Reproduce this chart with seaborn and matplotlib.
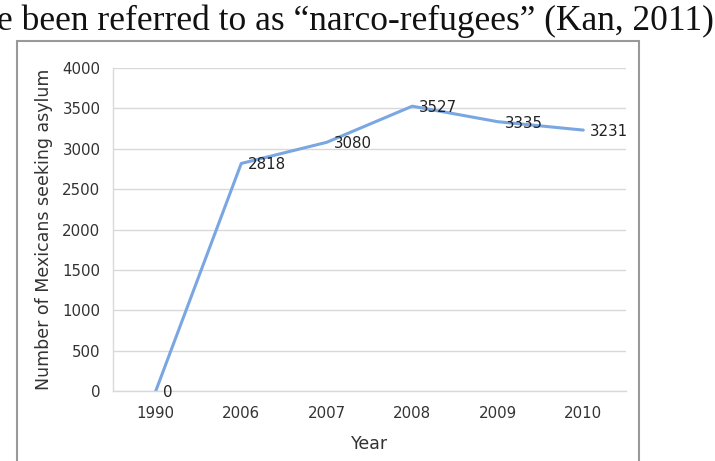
import matplotlib
matplotlib.use("Agg")
import matplotlib.pyplot as plt
from matplotlib.lines import Line2D
import seaborn as sns
import pandas as pd

years = ["1990", "2006", "2007", "2008", "2009", "2010"]
asylum_seekers = [0, 2818, 3080, 3527, 3335, 3231]
y_ticks = [0, 500, 1000, 1500, 2000, 2500, 3000, 3500, 4000]
header_text = "e been referred to as \u201cnarco-refugees\u201d (Kan, 2011)"

sns.set_theme(style="white")
plt.rcParams["font.family"] = ["DejaVu Sans"]

W, H = 715, 461
fig = plt.figure(figsize=(W / 100, H / 100), dpi=100)

# axes placement in pixels
left, right, top, bottom = 113, 626, 68, 391
ax = fig.add_axes([left / W, 1 - bottom / H, (right - left) / W, (bottom - top) / H])

df = pd.DataFrame({"Year": years, "Count": asylum_seekers})
sns.lineplot(data=df, x="Year", y="Count", sort=False, ax=ax,
             color="#7aa7e2", linewidth=2.2)

ax.set_xlim(-0.5, len(years) - 0.5)
ax.set_ylim(0, 4000)
ax.set_yticks(y_ticks)
ax.set_yticklabels([str(t) for t in y_ticks])
ax.set_xticks(range(len(years)))
ax.set_xticklabels(years)
ax.set_xticks([i - 0.5 for i in range(len(years) + 1)], minor=True)

ax.yaxis.grid(True, color="#d9d9d9", linewidth=1.0)
ax.xaxis.grid(False)
ax.set_axisbelow(True)
for s in ["top", "right"]:
    ax.spines[s].set_visible(False)
for s in ["left", "bottom"]:
    ax.spines[s].set_visible(True)
    ax.spines[s].set_color("#d9d9d9")
    ax.spines[s].set_linewidth(1.0)

ax.tick_params(axis="x", which="major", length=0, pad=11, labelsize=10.8, labelcolor="#333333")
ax.tick_params(axis="x", which="minor", length=4, width=1, color="#d9d9d9", direction="out")
ax.tick_params(axis="y", which="major", length=0, pad=9, labelsize=10.8, labelcolor="#333333")

ax.set_xlabel("Year", fontsize=12.5, color="#333333", labelpad=10)
ax.set_ylabel("Number of Mexicans seeking asylum", fontsize=12.5, color="#333333", labelpad=7)

for i, v in enumerate(asylum_seekers):
    ax.annotate(str(v), (i, v), xytext=(5, -1), textcoords="offset points",
                va="center", ha="left", fontsize=10.8, color="#222222")

# chart frame (document embedded chart)
frame_kw = dict(color="#999999", linewidth=1.5, transform=fig.transFigure)
fl, fr, ft = 17 / W, 639 / W, 1 - 41 / H
fig.add_artist(Line2D([fl, fl], [ft, -0.01], **frame_kw))
fig.add_artist(Line2D([fl, fr], [ft, ft], **frame_kw))
fig.add_artist(Line2D([fr, fr], [ft, -0.01], **frame_kw))

fig.text(-3 / W, 1 - 30 / H, header_text, family="Liberation Serif", fontsize=25.5,
         va="baseline", ha="left", color="#111111")

fig.savefig("out.png", dpi=100, facecolor="white")
